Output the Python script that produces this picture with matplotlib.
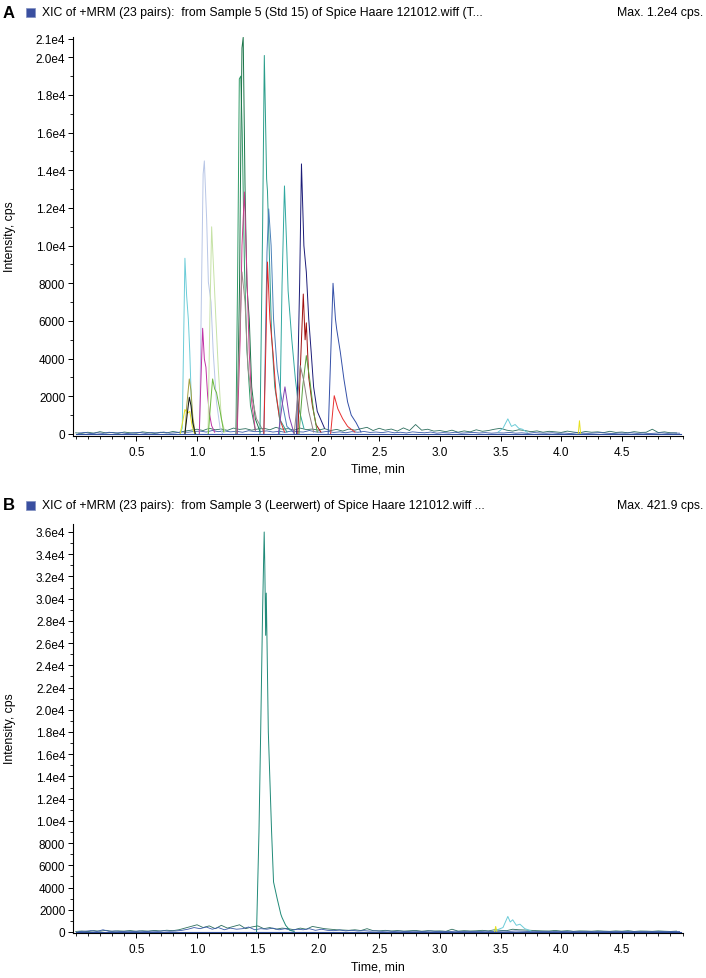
import numpy as np
import matplotlib
matplotlib.use("Agg")
import matplotlib.pyplot as plt
from matplotlib.patches import Rectangle
from matplotlib.ticker import FixedLocator, FixedFormatter, MultipleLocator

plt.rcParams['font.family'] = ['Liberation Sans', 'DejaVu Sans']

# ---- panel A: XIC peaks (time in min, intensity in cps) ----
peaks_a = [
    # colour, times, intensities
    ('#6cccd8', [0.86, 0.878, 0.90, 0.914, 0.928, 0.94, 0.955, 0.97, 0.99],
                [0, 300, 9330, 7340, 6100, 4350, 1330, 200, 0]),
    ('#e6e020', [0.86, 0.88, 0.90, 0.92, 0.94, 0.96, 0.98],
                [0, 600, 1300, 1100, 1200, 400, 0]),
    ('#a0a040', [0.90, 0.915, 0.936, 0.95, 0.965, 0.985],
                [0, 1500, 2920, 2300, 900, 0]),
    ('#101010', [0.90, 0.92, 0.936, 0.95, 0.965, 0.985],
                [0, 1100, 1950, 1500, 600, 0]),
    ('#b8c6e6', [1.02, 1.035, 1.05, 1.06, 1.079, 1.093, 1.115, 1.133, 1.16, 1.19, 1.21],
                [0, 7000, 13800, 14500, 11400, 8070, 7000, 4350, 1700, 300, 0]),
    ('#c032a4', [1.018, 1.03, 1.046, 1.06, 1.073, 1.087, 1.10, 1.12, 1.145],
                [0, 2500, 5610, 3980, 3540, 2040, 1150, 440, 90]),
    ('#c6e2a6', [1.09, 1.105, 1.12, 1.14, 1.155, 1.175, 1.20, 1.23],
                [0, 6000, 11000, 8230, 6100, 3450, 800, 100]),
    ('#6cb840', [1.093, 1.11, 1.128, 1.145, 1.16, 1.19, 1.22],
                [0, 1500, 2920, 2390, 2200, 1200, 100]),
    ('#2e9a66', [1.32, 1.335, 1.348, 1.36, 1.372, 1.39, 1.41, 1.44, 1.48],
                [0, 9000, 18850, 19000, 16000, 9000, 4500, 1500, 200]),
    ('#1a7448', [1.33, 1.35, 1.36, 1.37, 1.38, 1.395, 1.41, 1.43, 1.45, 1.48, 1.52],
                [0, 8000, 15000, 20500, 21060, 13200, 7900, 6100, 2500, 800, 100]),
    ('#c83c8c', [1.33, 1.355, 1.37, 1.39, 1.41, 1.43, 1.45, 1.48],
                [0, 5000, 10000, 12850, 8600, 4300, 1700, 200]),
    ('#a08c8c', [1.32, 1.345, 1.37, 1.395, 1.42, 1.45, 1.49, 1.55],
                [0, 4000, 8600, 7000, 3500, 2000, 800, 100]),
    ('#2a9d8a', [1.518, 1.54, 1.554, 1.573, 1.58, 1.595, 1.614, 1.64, 1.68, 1.74],
                [0, 11000, 20100, 13540, 12900, 9650, 5220, 2500, 800, 100]),
    ('#4a80b8', [1.55, 1.576, 1.59, 1.61, 1.63, 1.66, 1.70, 1.74, 1.80],
                [0, 9650, 11950, 10000, 6100, 3450, 1700, 400, 50]),
    ('#e02828', [1.55, 1.568, 1.58, 1.60, 1.625, 1.65, 1.68, 1.72],
                [0, 5000, 9130, 6100, 4350, 2200, 800, 100]),
    ('#30a8a0', [1.68, 1.70, 1.72, 1.74, 1.75, 1.78, 1.81, 1.84, 1.88],
                [0, 7900, 13170, 9650, 7600, 5040, 2900, 1300, 300]),
    ('#8040b0', [1.67, 1.70, 1.724, 1.74, 1.76, 1.80],
                [0, 1500, 2500, 1800, 900, 0]),
    ('#1c1c78', [1.82, 1.845, 1.86, 1.88, 1.90, 1.92, 1.94, 1.96, 1.99, 2.05],
                [0, 8000, 14340, 10000, 8600, 6100, 4350, 2500, 1200, 300]),
    ('#a01010', [1.83, 1.86, 1.875, 1.89, 1.90, 1.92, 1.95, 1.98, 2.02],
                [0, 5000, 7430, 5000, 5900, 3000, 1500, 500, 100]),
    ('#58a040', [1.84, 1.87, 1.90, 1.93, 1.96, 1.99],
                [0, 2500, 4160, 2800, 1200, 100]),
    ('#908080', [1.80, 1.83, 1.85, 1.88, 1.92, 1.96],
                [0, 2000, 3630, 2800, 1200, 100]),
    ('#3450a8', [2.08, 2.10, 2.12, 2.14, 2.15, 2.18, 2.21, 2.24, 2.27, 2.31, 2.35],
                [0, 4000, 8000, 6100, 5575, 4350, 2900, 1700, 1000, 600, 100]),
    ('#e83030', [2.10, 2.13, 2.16, 2.20, 2.24, 2.30],
                [0, 2030, 1330, 800, 400, 100]),
    ('#6cccd8', [3.48, 3.52, 3.56, 3.59, 3.62, 3.65, 3.68, 3.72],
                [100, 300, 800, 400, 500, 300, 250, 80]),
    ('#e6e020', [4.14, 4.15, 4.16], [0, 700, 0]),
]

# baseline noise, typed at 0.05 min steps
base_a1 = [60, 30, 90, 40, 120, 50, 80, 30, 100, 60,
           40, 110, 70, 30, 90, 50, 130, 80, 150, 200,
           250, 180, 300, 220, 260, 190, 310, 240, 280, 200,
           260, 300, 220, 350, 250, 280, 200, 310, 230, 260,
           200, 280, 180, 240, 150, 260, 200, 280, 350, 180,
           300, 200, 260, 150, 320, 180, 500, 200, 250, 150,
           180, 120, 200, 90, 160, 110, 220, 140, 180, 250,
           300, 200, 150, 220, 180, 120, 160, 90, 140, 110,
           80, 150, 100, 60, 130, 90, 110, 70, 140, 80,
           100, 60, 120, 80, 90, 250, 70, 110, 60, 50]
base_a2 = [40, 80, 20, 60, 30, 90, 50, 70, 20, 60,
           80, 30, 70, 50, 100, 40, 60, 110, 90, 130,
           150, 100, 180, 120, 160, 110, 140, 90, 170, 120,
           130, 160, 100, 140, 90, 150, 120, 100, 180, 110,
           90, 140, 80, 110, 60, 120, 90, 130, 80, 100,
           70, 120, 60, 90, 50, 110, 80, 60, 100, 40,
           70, 50, 90, 40, 60, 80, 50, 70, 40, 60,
           50, 80, 40, 60, 30, 70, 50, 40, 60, 30,
           50, 20, 60, 40, 30, 50, 70, 40, 20, 50,
           40, 60, 30, 50, 20, 40, 60, 30, 50, 40]

# ---- panel B: blank sample ----
peaks_b = [
    ('#208a78', [1.49, 1.51, 1.524, 1.54, 1.553, 1.558, 1.565, 1.57, 1.575, 1.587,
                 1.614, 1.63, 1.66, 1.68, 1.69, 1.70, 1.73, 1.765, 1.80],
                [0, 9000, 18000, 29000, 36000, 33000, 26700, 30500, 27000, 18000,
                 9000, 4500, 3000, 2070, 1600, 1300, 600, 150, 50]),
    ('#6cccd8', [3.45, 3.52, 3.56, 3.58, 3.60, 3.63, 3.66, 3.70, 3.75],
                [100, 400, 1400, 900, 1100, 600, 700, 300, 100]),
    ('#e6e020', [3.45, 3.46, 3.47], [0, 500, 0]),
]

base_b1 = [50, 90, 40, 120, 70, 150, 60, 100, 80, 130,
           60, 110, 80, 140, 90, 160, 120, 200, 350, 500,
           650, 400, 550, 300, 600, 350, 500, 650, 300, 450,
           550, 300, 400, 250, 350, 300, 200, 350, 250, 500,
           400, 300, 250, 200, 180, 150, 200, 130, 300, 120,
           100, 150, 90, 130, 80, 110, 140, 70, 120, 90,
           100, 60, 250, 80, 120, 90, 110, 150, 100, 200,
           150, 120, 250, 200, 180, 150, 120, 100, 90, 140,
           80, 120, 60, 100, 90, 70, 110, 80, 60, 100,
           70, 120, 50, 90, 80, 60, 100, 70, 50, 80]
base_b2 = [30, 70, 120, 50, 200, 60, 90, 40, 70, 50,
           90, 40, 80, 60, 110, 70, 90, 150, 250, 400,
           300, 450, 250, 400, 200, 350, 250, 300, 450, 200,
           300, 250, 350, 200, 300, 150, 250, 200, 300, 150,
           250, 150, 120, 180, 100, 150, 90, 120, 80, 100,
           60, 90, 50, 80, 40, 70, 60, 50, 90, 40,
           60, 40, 70, 30, 60, 50, 40, 70, 50, 60,
           80, 60, 90, 70, 50, 60, 40, 50, 30, 60,
           40, 70, 30, 50, 40, 30, 60, 40, 30, 50,
           40, 60, 30, 40, 30, 50, 40, 30, 50, 40]

ticks_a = list(range(0, 20001, 2000)) + [21000]
labels_a = ['0', '2000', '4000', '6000', '8000', '1.0e4', '1.2e4', '1.4e4',
            '1.6e4', '1.8e4', '2.0e4', '2.1e4']
ticks_b = list(range(0, 36001, 2000))
labels_b = ['0', '2000', '4000', '6000', '8000'] + \
           ['%.1fe4' % (v / 10000) for v in range(10000, 36001, 2000)]
xticks = [0.5, 1.0, 1.5, 2.0, 2.5, 3.0, 3.5, 4.0, 4.5]

headers = [
    ('A', 'XIC of +MRM (23 pairs):  from Sample 5 (Std 15) of Spice Haare 121012.wiff (T...',
     'Max. 1.2e4 cps.'),
    ('B', 'XIC of +MRM (23 pairs):  from Sample 3 (Leerwert) of Spice Haare 121012.wiff ...',
     'Max. 421.9 cps.'),
]

W, H = 706, 979
fig = plt.figure(figsize=(W / 100, H / 100), dpi=100)


def fx(px):
    return px / W


def fy(py):
    return 1 - py / H


ax_a = fig.add_axes([fx(73), fy(437), fx(610), (437 - 38) / H])
ax_b = fig.add_axes([fx(73), fy(934), fx(610), (934 - 525) / H])

t_base = np.arange(100) * 0.05

for ax, peaks, b1, b2, yt, yl, ylim in [
        (ax_a, peaks_a, base_a1, base_a2, ticks_a, labels_a, (-110, 21080)),
        (ax_b, peaks_b, base_b1, base_b2, ticks_b, labels_b, (-90, 36720))]:
    ax.plot(t_base, b1, color='#2d6e5e', lw=0.6)
    ax.plot(t_base + 0.025, b2, color='#3a5aa8', lw=0.6)
    for col, t, v in peaks:
        ax.plot(t, v, color=col, lw=0.7)
    ax.plot([0, 4.99], [0, 0], color='#3050a0', lw=0.8)

    ax.set_xlim(-0.022, 5.003)
    ax.set_ylim(*ylim)
    ax.spines['top'].set_visible(False)
    ax.spines['right'].set_visible(False)
    ax.spines['left'].set_linewidth(0.8)
    ax.spines['bottom'].set_linewidth(0.8)
    ax.yaxis.set_major_locator(FixedLocator(yt))
    ax.yaxis.set_major_formatter(FixedFormatter(yl))
    ax.yaxis.set_minor_locator(MultipleLocator(1000))
    ax.xaxis.set_major_locator(FixedLocator(xticks))
    ax.xaxis.set_major_formatter(FixedFormatter(['%.1f' % v for v in xticks]))
    ax.xaxis.set_minor_locator(MultipleLocator(0.1))
    ax.tick_params(which='major', length=3.5, width=0.7, labelsize=8.5, pad=2)
    ax.tick_params(which='minor', length=2, width=0.6)
    ax.tick_params(axis='x', pad=4)

# labels and headers
for (letter, txt, mx), top, xlab_y, ylab_y in [
        (headers[0], 13, 470, 237), (headers[1], 506, 968, 729)]:
    fig.text(fx(3), fy(top), letter, fontsize=12, fontweight='bold', va='center')
    fig.patches.append(Rectangle((fx(26), fy(top + 4.5)), fx(9), 9 / H,
                                 transform=fig.transFigure, facecolor='#3a4fa0',
                                 edgecolor='#8090c0', lw=0.5))
    fig.text(fx(42), fy(top), txt, fontsize=8.8, va='center')
    fig.text(fx(703), fy(top), mx, fontsize=8.8, va='center', ha='right')
    fig.text(fx(378), fy(xlab_y), 'Time, min', fontsize=8.8, va='center', ha='center')
    fig.text(fx(10), fy(ylab_y), 'Intensity, cps', fontsize=8.8, va='center',
             ha='center', rotation=90)

fig.savefig('out.png', dpi=100)
